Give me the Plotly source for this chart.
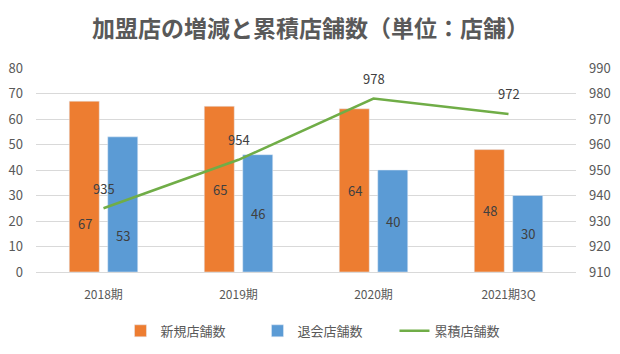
import plotly.graph_objects as go

categories = ["2018期", "2019期", "2020期", "2021期3Q"]
new_stores = [67, 65, 64, 48]
closed_stores = [53, 46, 40, 30]
cumulative = [935, 954, 978, 972]

FONT = "Noto Sans CJK JP"
ORANGE = "#ED7D31"
BLUE = "#5B9BD5"
GREEN = "#70AD47"
TXT = "#595959"

fig = go.Figure()
fig.add_trace(go.Bar(x=categories, y=new_stores, name="新規店舗数", marker_color=ORANGE))
fig.add_trace(go.Bar(x=categories, y=closed_stores, name="退会店舗数", marker_color=BLUE))
fig.add_trace(go.Scatter(x=categories, y=cumulative, name="累積店舗数", mode="lines",
                         line=dict(color=GREEN, width=2.5), yaxis="y2"))

ann = []
# first category labels were nudged down in the original to avoid the line label
first_shift = [-37, -31]
for i, c in enumerate(categories):
    for j, (vals, xs) in enumerate([(new_stores, -19), (closed_stores, 19)]):
        ann.append(dict(x=c, y=vals[i] / 2, xref="x", yref="y", text=str(vals[i]),
                        showarrow=False, xshift=xs, yshift=first_shift[j] if i == 0 else 0,
                        font=dict(family=FONT, size=13, color="#404040")))
    ann.append(dict(x=c, y=cumulative[i], xref="x", yref="y2", text=str(cumulative[i]),
                    showarrow=False, yshift=20,
                    font=dict(family=FONT, size=13, color="#404040")))

fig.update_layout(
    width=620, height=354,
    margin=dict(l=36, r=44, t=68, b=82, autoexpand=False),
    paper_bgcolor="white", plot_bgcolor="white",
    title=dict(text="<b>加盟店の増減と累積店舗数（単位：店舗）</b>", x=0.501, xanchor="center",
               y=0.918, yanchor="middle", font=dict(family=FONT, size=23, color=TXT)),
    barmode="group", bargap=0.43, bargroupgap=0.22,
    xaxis=dict(showgrid=False, showline=False, ticks="", ticklabelstandoff=14, automargin=False,
               tickfont=dict(family=FONT, size=12, color=TXT)),
    yaxis=dict(range=[0, 80], dtick=10, gridcolor="#D9D9D9", gridwidth=1, zeroline=True,
               zerolinecolor="#D9D9D9", zerolinewidth=1, showline=False, automargin=False,
               tickfont=dict(family=FONT, size=13, color=TXT), ticklabelstandoff=12),
    yaxis2=dict(range=[910, 990], dtick=10, overlaying="y", side="right", showgrid=False,
                zeroline=False, showline=False, ticklabelstandoff=12, automargin=False,
                tickfont=dict(family=FONT, size=13, color=TXT)),
    legend=dict(orientation="h", x=0.537, xanchor="center", y=-0.215, yanchor="top",
                entrywidth=92, entrywidthmode="pixels",
                font=dict(family=FONT, size=13, color=TXT), traceorder="normal"),
    annotations=ann,
    showlegend=True,
)

fig.write_html("out.html")
